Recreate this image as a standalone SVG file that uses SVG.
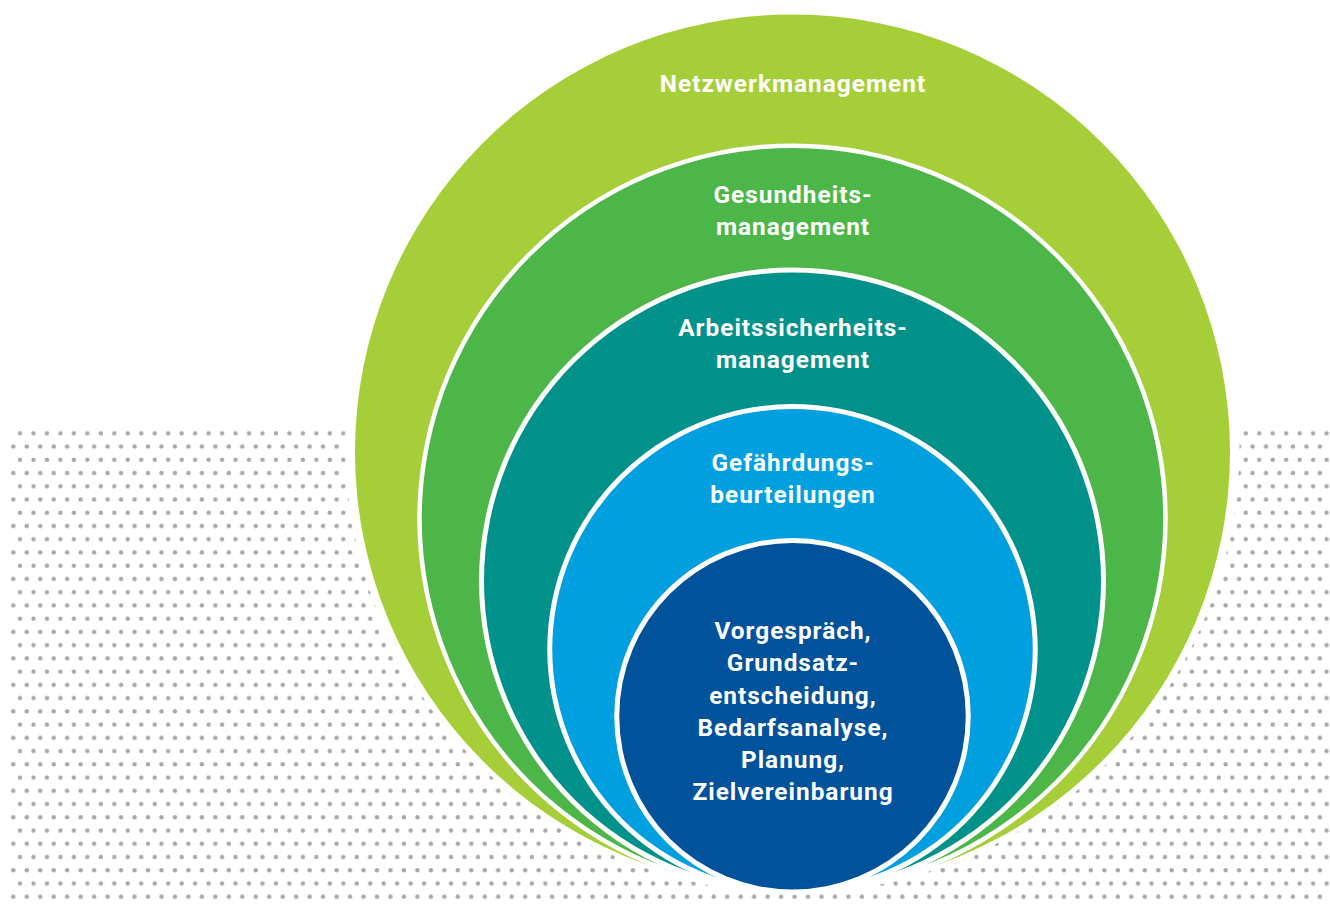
<svg xmlns="http://www.w3.org/2000/svg" width="1330" height="906" viewBox="0 0 1330 906">
  <defs>
    <pattern id="dots" patternUnits="userSpaceOnUse" x="0" y="426.68" width="13.47" height="26.48">
      <circle cx="6.53" cy="6.62" r="2.2" fill="#a7a7ac"/>
      <circle cx="-0.2" cy="19.86" r="2.2" fill="#a7a7ac"/>
      <circle cx="13.27" cy="19.86" r="2.2" fill="#a7a7ac"/>
    </pattern>
  </defs>
  <style>
    .gap { fill: #ffffff; }
    .lbl { fill: #ffffff; font-family: Roboto, "Liberation Sans", sans-serif; font-weight: bold; font-size: 24.4px; letter-spacing: 1px; text-anchor: middle; }
  </style>
  <rect x="0" y="0" width="1330" height="906" fill="#ffffff"/>
  <rect id="dot-field" x="10" y="426.68" width="1320" height="476.64" fill="url(#dots)"/>
  <circle id="halo" cx="792.5" cy="446" r="447" fill="#ffffff"/>

  <g id="netzwerkmanagement">
    <circle cx="792.5" cy="452" r="437.5" fill="#a6ce39"/>
    <text class="lbl" x="793" y="91.7">Netzwerkmanagement</text>
  </g>

  <g id="gesundheitsmanagement">
    <circle class="gap" cx="792.5" cy="518.75" r="375.25"/>
    <circle cx="792.5" cy="518.75" r="370.75" fill="#4cb748"/>
    <text class="lbl" x="793" y="202.7">Gesundheits-</text>
    <text class="lbl" x="793" y="234.8">management</text>
  </g>

  <g id="arbeitssicherheitsmanagement">
    <circle class="gap" cx="792.5" cy="581" r="313.5"/>
    <circle cx="792.5" cy="581" r="308.5" fill="#00918b"/>
    <text class="lbl" x="793" y="335.5">Arbeitssicherheits-</text>
    <text class="lbl" x="793" y="367.6">management</text>
  </g>

  <g id="gefaehrdungsbeurteilungen">
    <circle class="gap" cx="792.5" cy="649.25" r="245.25"/>
    <circle cx="792.5" cy="649.25" r="240.25" fill="#009fe0"/>
    <text class="lbl" x="793" y="471">Gefährdungs-</text>
    <text class="lbl" x="793" y="503">beurteilungen</text>
  </g>

  <g id="vorgespraech">
    <circle class="gap" cx="792.5" cy="716.25" r="178.25"/>
    <circle cx="792.5" cy="716.25" r="173.25" fill="#00529b"/>
    <text class="lbl" x="793" y="639.3">Vorgespräch,</text>
    <text class="lbl" x="793" y="671.4">Grundsatz-</text>
    <text class="lbl" x="793" y="703.5">entscheidung,</text>
    <text class="lbl" x="793" y="735.7">Bedarfsanalyse,</text>
    <text class="lbl" x="793" y="767.8">Planung,</text>
    <text class="lbl" x="793" y="800">Zielvereinbarung</text>
  </g>
</svg>
